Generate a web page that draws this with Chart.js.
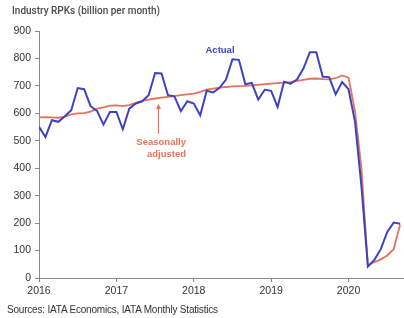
<!DOCTYPE html>
<html lang="en">
<head>
  <meta charset="UTF-8">
  <title>Industry RPKs</title>
  <script src="https://cdn.jsdelivr.net/npm/chart.js"></script>
  <style>
    body { margin: 0; background: #fff; }
    #wrap { position: relative; width: 404px; height: 318px; font-family: "Liberation Sans", Arial, sans-serif; }
    #titolo { position: absolute; left: 12px; top: 5px; font-family: Roboto, "Liberation Sans", Arial, sans-serif; font-size: 10px; font-weight: 500; color: #4a4a4a; }
    #fonte { position: absolute; left: 7px; top: 304px; font-size: 10px; color: #333; letter-spacing: -0.2px; }
  </style>
</head>
<body>
  <div id="wrap">
    <canvas id="grafico" width="404" height="318"></canvas>
    <div id="titolo">Industry RPKs (billion per month)</div>
    <div id="fonte">Sources: IATA Economics, IATA Monthly Statistics</div>
  </div>

  <script>
    // mesi da gen 2016 a set 2020 (indice = mese)
    const anni = ['2016', '2017', '2018', '2019', '2020'];
    const actual = [551, 514, 575, 569, 589, 611, 692, 688, 626, 609, 559, 605,
                    605, 542, 617, 636, 644, 666, 747, 745, 666, 662, 608, 644,
                    636, 593, 682, 676, 693, 723, 797, 795, 706, 711, 650, 686,
                    682, 623, 715, 708, 723, 763, 823, 823, 733, 732, 669, 714,
                    688, 570, 335, 42, 66, 105, 168, 202, 198];
    const destag = [585, 586, 585, 584, 588, 596, 600, 601, 606, 617, 622, 628,
                    629, 626, 630, 638, 645, 650, 654, 657, 660, 663, 666, 669,
                    672, 678, 686, 690, 694, 696, 698, 699, 700, 702, 704, 706,
                    708, 710, 712, 714, 718, 722, 726, 727, 725, 724, 728, 738,
                    730, 608, 400, 45, 58, 68, 82, 105, 195];

    const BLU = '#3b43c2', ROSSO = '#e8725c', GRIGIO = '#8a8a8a';

    const note = {
      id: 'note',
      afterDatasetsDraw(chart) {
        const c = chart.ctx;
        c.save();
        c.font = 'bold 9.5px "Liberation Sans", Arial';
        c.textBaseline = 'middle';
        c.fillStyle = BLU;
        c.textAlign = 'center';
        c.fillText('Actual', 220, 50.5);
        c.fillStyle = ROSSO;
        c.textAlign = 'right';
        c.fillText('Seasonally', 186, 142);
        c.fillText('adjusted', 186, 154.5);
        // freccia
        c.strokeStyle = ROSSO;
        c.lineWidth = 1.2;
        c.beginPath();
        c.moveTo(158.5, 134);
        c.lineTo(158.5, 106);
        c.stroke();
        c.fillStyle = ROSSO;
        c.beginPath();
        c.moveTo(158.5, 104);
        c.lineTo(156, 109);
        c.lineTo(161, 109);
        c.closePath();
        c.fill();
        c.restore();
      }
    };

    Chart.defaults.font.family = '"Liberation Sans", Arial, sans-serif';
    Chart.defaults.color = '#333';

    const ctx = document.getElementById('grafico').getContext('2d');
    new Chart(ctx, {
      type: 'line',
      data: {
        datasets: [
          { label: 'Actual', data: actual.map((v, i) => ({ x: i, y: v })), borderColor: BLU, borderWidth: 2 },
          { label: 'Seasonally adjusted', data: destag.map((v, i) => ({ x: i, y: v })), borderColor: ROSSO, borderWidth: 1.8 }
        ]
      },
      options: {
        responsive: false,
        animation: false,
        layout: { padding: { top: 31, right: 0, left: 0, bottom: 0 } },
        elements: { point: { radius: 0 }, line: { tension: 0 } },
        plugins: { legend: { display: false }, tooltip: { enabled: false } },
        scales: {
          x: {
            type: 'linear', min: 0, max: 56.6,
            afterBuildTicks: s => { s.ticks = s.ticks.filter(t => t.value % 12 === 0); },
            afterFit: s => { s.height = 40; },
            border: { color: GRIGIO },
            grid: { drawOnChartArea: false, tickLength: 4, tickColor: GRIGIO },
            ticks: { stepSize: 12, padding: 3, maxRotation: 0, font: { size: 10.5 },
                     callback: v => anni[v / 12] }
          },
          y: {
            min: 0, max: 900,
            afterFit: s => { s.width = 39; },
            border: { color: GRIGIO },
            grid: { drawOnChartArea: false, tickLength: 4, tickColor: GRIGIO },
            ticks: { stepSize: 100, padding: 4, font: { size: 10.5 } }
          }
        }
      },
      plugins: [note]
    });
  </script>
</body>
</html>
